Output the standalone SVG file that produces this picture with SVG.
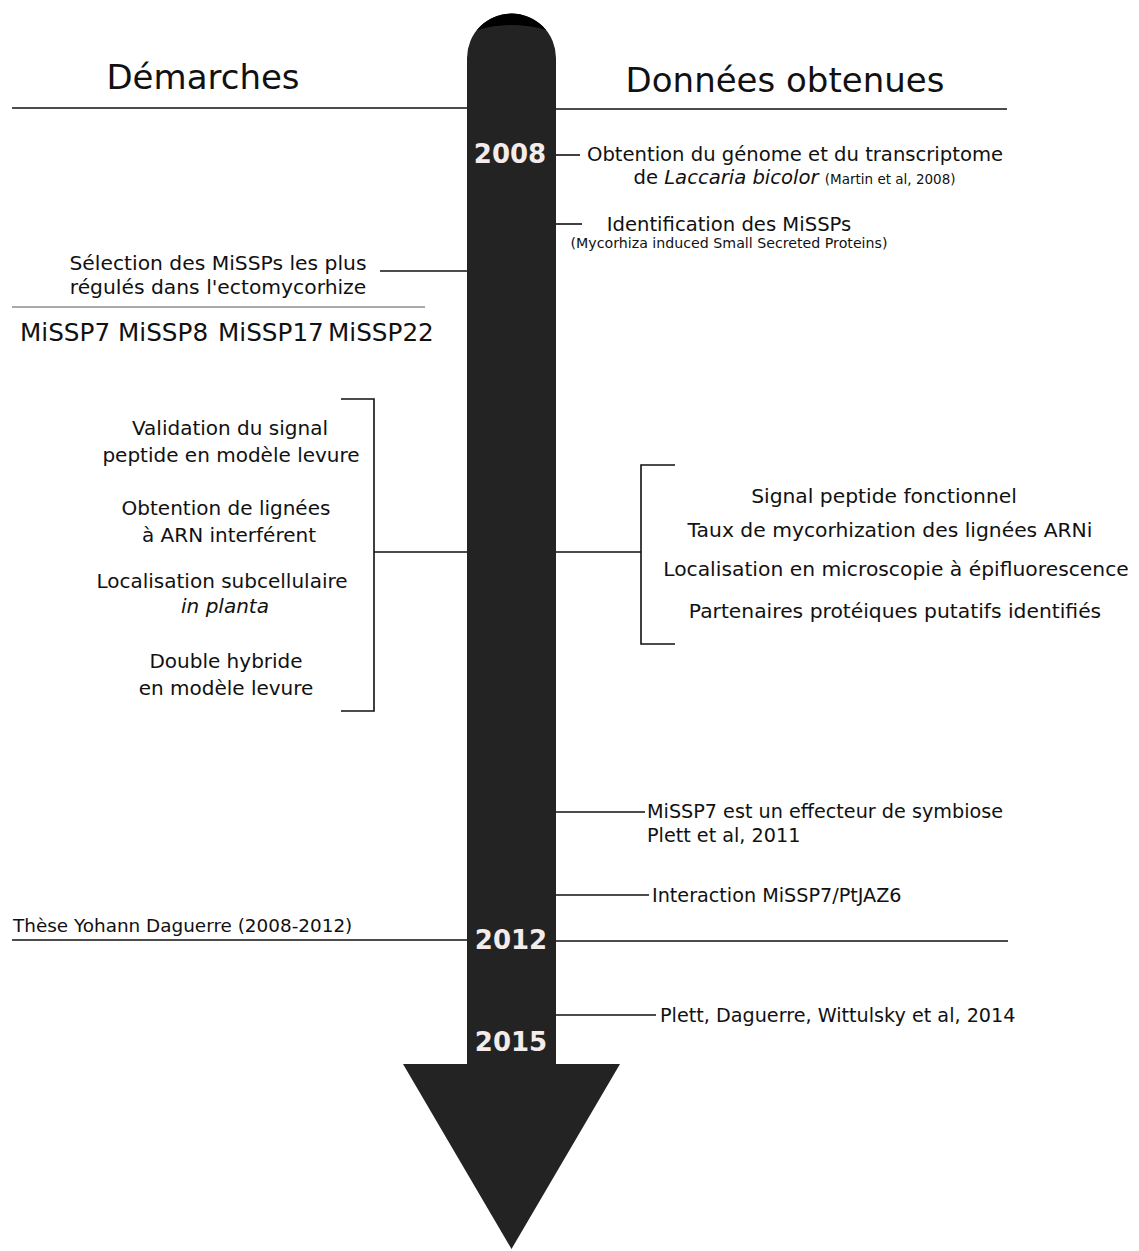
<svg xmlns="http://www.w3.org/2000/svg" width="1139" height="1251" viewBox="0 0 1139 1251">
<style>
text{font-family:"DejaVu Sans","Liberation Sans",sans-serif;fill:#111}
.t{font-size:20px}
.r{font-size:20.3px}
.m{font-size:19.6px}
.b{font-size:19.2px}
.s{font-size:14.2px}
.h{font-size:34px}
.y{font-size:26px;font-weight:bold;fill:#f3ecea;text-anchor:middle}
.c{text-anchor:middle}
line{stroke:#111;stroke-width:1.6}
.thin{stroke:#555;stroke-width:1.2}
</style>
<rect width="1139" height="1251" fill="#fff"/>
<g id="connectors">
<line x1="12" y1="108" x2="468" y2="108"/>
<line x1="555" y1="109" x2="1007" y2="109"/>
<line x1="555" y1="155" x2="580" y2="155"/>
<line x1="555" y1="224" x2="582" y2="224"/>
<line x1="380" y1="271" x2="468" y2="271"/>
<line class="thin" x1="12" y1="307" x2="425" y2="307"/>
<path d="M341,399 H374 V711 H341 M374,552 H468" fill="none" stroke="#111" stroke-width="1.6"/>
<path d="M675,465 H641 V644 H675 M641,552 H555" fill="none" stroke="#111" stroke-width="1.6"/>
<line x1="555" y1="812" x2="645" y2="812"/>
<line x1="555" y1="895" x2="649" y2="895"/>
<line x1="12" y1="940" x2="468" y2="940"/>
<line x1="555" y1="941" x2="1008" y2="941"/>
<line x1="555" y1="1015" x2="656" y2="1015"/>
</g>
<g id="timeline">
<path d="M467,1064 V58 A44.5,44.5 0 0 1 556,58 V1064 H620 L511.5,1249 L403,1064 Z" fill="#232323"/>
<path d="M477,30 A44.5,44.5 0 0 1 546,30 Q511.5,20 477,30 Z" fill="#000"/>
</g>
<g id="headers">
<text class="h c" x="203" y="89">Démarches</text>
<text class="h c" x="785" y="92">Données obtenues</text>
</g>
<g id="years">
<text class="y" x="510" y="163">2008</text>
<text class="y" x="511" y="949">2012</text>
<text class="y" x="511" y="1051">2015</text>
</g>
<g id="genome">
<text class="m c" x="795" y="161">Obtention du génome et du transcriptome</text>
<text class="m c" x="794.5" y="184">de <tspan font-style="italic">Laccaria bicolor</tspan> <tspan font-size="13.5px">(Martin et al, 2008)</tspan></text>
</g>
<g id="identification">
<text class="m c" x="729" y="231">Identification des MiSSPs</text>
<text class="s c" x="729" y="248">(Mycorhiza induced Small Secreted Proteins)</text>
</g>
<g id="selection">
<text class="r c" x="218" y="270">Sélection des MiSSPs les plus</text>
<text class="r c" x="218" y="294">régulés dans l'ectomycorhize</text>
</g>
<g id="missps">
<text x="20" y="341" font-size="24.7">MiSSP7</text>
<text x="118" y="341" font-size="24.7">MiSSP8</text>
<text x="218" y="341" font-size="24.7">MiSSP17</text>
<text x="328" y="341" font-size="24.7">MiSSP22</text>
</g>
<g id="demarches">
<text class="t c" x="230" y="435">Validation du signal</text>
<text class="t c" x="231" y="462">peptide en modèle levure</text>
<text class="t c" x="226" y="515">Obtention de lignées</text>
<text class="t c" x="229" y="542">à ARN interférent</text>
<text class="t c" x="222" y="588">Localisation subcellulaire</text>
<text class="t c" x="225" y="613" font-style="italic">in planta</text>
<text class="t c" x="226" y="668">Double hybride</text>
<text class="t c" x="226" y="695">en modèle levure</text>
</g>
<g id="resultats">
<text class="r c" x="884" y="503">Signal peptide fonctionnel</text>
<text class="r c" x="890" y="537">Taux de mycorhization des lignées ARNi</text>
<text class="r c" x="896" y="576">Localisation en microscopie à épifluorescence</text>
<text class="r c" x="895" y="618">Partenaires protéiques putatifs identifiés</text>
</g>
<g id="effecteur">
<text class="b" x="647" y="818">MiSSP7 est un effecteur de symbiose</text>
<text class="b" x="647" y="842">Plett et al, 2011</text>
</g>
<g id="interaction">
<text class="b" x="652" y="902">Interaction MiSSP7/PtJAZ6</text>
</g>
<g id="these">
<text x="13" y="932" font-size="18.4">Thèse Yohann Daguerre (2008-2012)</text>
</g>
<g id="plett2014">
<text class="b" x="660" y="1022">Plett, Daguerre, Wittulsky et al, 2014</text>
</g>
</svg>
